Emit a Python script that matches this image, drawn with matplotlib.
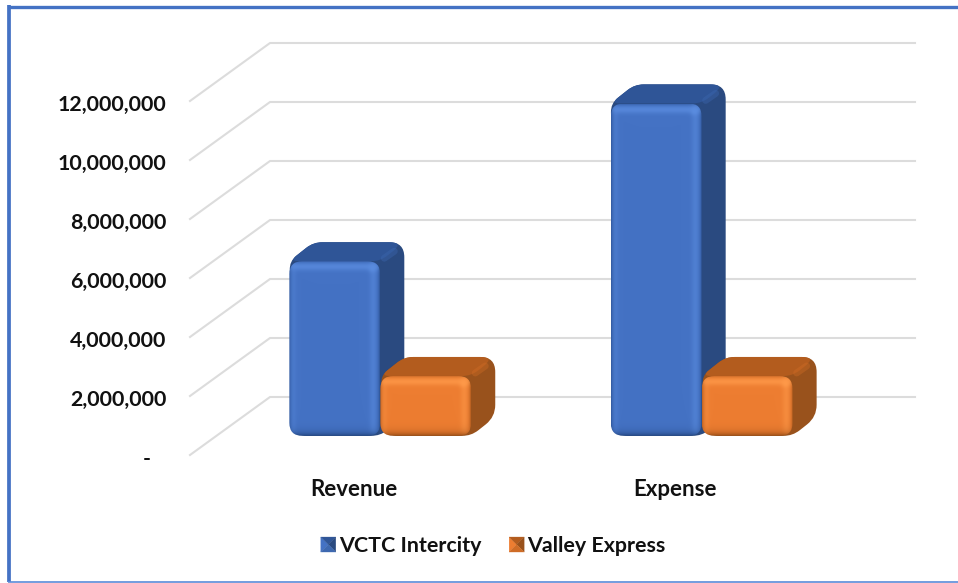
import numpy as np
import matplotlib
matplotlib.use("Agg")
import matplotlib.pyplot as plt
from matplotlib.legend_handler import HandlerPatch
from matplotlib.patches import Patch, PathPatch, Polygon
from matplotlib.path import Path
from matplotlib.transforms import Affine2D, IdentityTransform

# === Data ===
categories = ["Revenue", "Expense"]
series_names = ["VCTC Intercity", "Valley Express"]
vctc = [5920000, 11270000]
valley = [2030000, 2030000]
y_ticks = [0, 2000000, 4000000, 6000000, 8000000, 10000000, 12000000]
y_labels = ["-   ", "2,000,000", "4,000,000", "6,000,000", "8,000,000",
            "10,000,000", "12,000,000"]

# === Style ===
W, H = 958, 583
GRID = "#dcdcdc"
BLUES = {"face": "#4472c4", "top": "#2f5597", "side": "#2a4a80",
         "light": "#5b8de0", "dark": "#264a86", "edge": "#3d68b0"}
ORANGES = {"face": "#ed7d31", "top": "#b35c1e", "side": "#99521c",
           "light": "#ff9a4a", "dark": "#9c5018", "edge": "#cf6c26"}
BAR_W = 0.283
DEPTH_X, DEPTH_Y = 80, -58   # floor depth, pixels
BAR_D0 = 0.33                # where the bars stand on the floor
OFF = np.array([24.0, 19.0])  # bar depth, pixels
RADIUS = 13

plt.rcParams["font.family"] = ["Lato", "DejaVu Sans"]
plt.rcParams["font.weight"] = "bold"

fig = plt.figure(figsize=(W / 100, H / 100), dpi=100, facecolor="white")
ax = fig.add_axes([190 / W, 1 - 455 / H, 645 / W, 354 / H])
ax.set_xlim(-0.51, 1.497)
ax.set_ylim(0, 12000000)
for s in ax.spines.values():
    s.set_visible(False)
ax.patch.set_visible(False)

ax.set_yticks(y_ticks)
ax.set_yticklabels(y_labels, fontsize=15.4, color="#111111")
ax.set_xticks(range(len(categories)))
ax.set_xticklabels(categories, fontsize=16, color="#111111")
ax.tick_params(axis="y", length=0, pad=17)
ax.tick_params(axis="x", length=0, pad=17)
for lab in ax.get_yticklabels():
    lab.set_transform(lab.get_transform() + Affine2D().translate(0, -2))
fig.canvas.draw()


def px(x, y, d=0.0):
    """data point -> display pixels, moved back d along the floor"""
    p = ax.transData.transform((x, y))
    return np.array([p[0] + d * DEPTH_X, p[1] - d * DEPTH_Y])


def rounded(points, radii):
    verts, codes = [], []
    n = len(points)
    for i in range(n):
        r = radii[i]
        p, a, b = points[i], points[i - 1], points[(i + 1) % n]
        ra = min(r, np.linalg.norm(a - p) / 2)
        rb = min(r, np.linalg.norm(b - p) / 2)
        p1 = p + (a - p) / np.linalg.norm(a - p) * ra
        p2 = p + (b - p) / np.linalg.norm(b - p) * rb
        verts += [p1, p, p2]
        codes += [Path.LINETO if i else Path.MOVETO, Path.CURVE3, Path.CURVE3]
    verts.append(verts[0])
    codes.append(Path.CLOSEPOLY)
    return Path(verts, codes)


def shade_face(w, h, cols):
    """bevel image for the front of a bar: soft light and dark edges"""
    yy, xx = np.mgrid[0:h, 0:w]
    base = np.array(matplotlib.colors.to_rgb(cols["face"]))
    light = np.array(matplotlib.colors.to_rgb(cols["light"]))
    dark = np.array(matplotlib.colors.to_rgb(cols["dark"]))
    img = np.ones((h, w, 3)) * base
    bands = [(np.exp(-((yy - 5) / 4.0) ** 2), light, 0.75),
             (np.exp(-((w - 7 - xx) / 4.0) ** 2), light, 0.5),
             (np.exp(-((xx - 4) / 3.0) ** 2), light, 0.3),
             (np.exp(-(w - 1 - xx) / 1.5), dark, 0.6),
             (np.exp(-xx / 1.5), dark, 0.5),
             (np.exp(-yy / 1.2), dark, 0.3),
             (np.exp(-(h - 1 - yy) / 3.5), dark, 1.0)]
    for amt, col, k in bands:
        a = (amt * k)[..., None]
        img = img * (1 - a) + col * a
    spot = np.exp(-(((xx - (w - 8)) ** 2 + (yy - 7) ** 2) / 14.0))[..., None] * 0.8
    return img * (1 - spot) + light * spot


def draw_bar(x0, x1, value, cols, z):
    a = px(x0, 0, BAR_D0)
    b = px(x1, value, BAR_D0)
    tr = IdentityTransform()
    # silhouette of the block, side colour
    shell = [np.array(q) for q in [
        (a[0] + 8, a[1]), (a[0], b[1]), (a[0] + OFF[0], b[1] + OFF[1]),
        (b[0] + OFF[0], b[1] + OFF[1]), (b[0] + OFF[0], a[1] + OFF[1]),
        (b[0], a[1])]]
    fig.add_artist(PathPatch(rounded(shell, [9, 9, 9, 15, 12, 9]), transform=tr,
                             fc=cols["side"], ec="none", zorder=z))
    # top face
    top = [np.array(q) for q in [
        (a[0], b[1]), (a[0] + OFF[0], b[1] + OFF[1]), (b[0] + OFF[0], b[1] + OFF[1]),
        (b[0], b[1])]]
    fig.add_artist(PathPatch(rounded(top, [9, 9, 15, 9]), transform=tr, fc=cols["top"],
                             ec="none", zorder=z + 0.1))
    # soft ridge where the top and the side meet
    fig.add_artist(plt.Line2D([b[0] + 4, b[0] + OFF[0] - 10], [b[1] + 3, b[1] + OFF[1] - 9],
                              transform=tr, color=cols["edge"], lw=5, alpha=0.4,
                              solid_capstyle="round", zorder=z + 0.12))
    # front face with bevel
    front = [np.array(q) for q in [(a[0], a[1]), (a[0], b[1]), (b[0], b[1]), (b[0], a[1])]]
    clip = PathPatch(rounded(front, [RADIUS] * 4), transform=tr, fc="none", ec="none")
    fig.add_artist(clip)
    w, h = int(round(b[0] - a[0])), int(round(b[1] - a[1]))
    im = fig.figimage(shade_face(w, h, cols), xo=int(round(a[0])), yo=int(round(a[1])),
                      origin="upper", zorder=z + 0.2)
    im.set_clip_path(clip)


ax.set_zorder(1)
for i, v in enumerate(vctc):
    draw_bar(i - BAR_W, i, v, BLUES, 3)
for i, v in enumerate(valley):
    draw_bar(i, i + BAR_W, v, ORANGES, 4)

# back wall and side wall gridlines, behind the bars
x_l, x_r = ax.get_xlim()
for t in y_ticks:
    front = px(x_l, t)
    back = px(x_l, t, 1.0)
    end = px(x_r, t, 1.0)
    fig.add_artist(plt.Line2D([front[0], back[0], end[0]], [front[1], back[1], end[1]],
                              transform=IdentityTransform(), color=GRID, lw=1.5, zorder=1))


class PyramidHandler(HandlerPatch):
    def create_artists(self, legend, orig, xd, yd, w, h, fontsize, trans):
        is_blue = orig.get_facecolor()[:3] == matplotlib.colors.to_rgba(BLUES["face"])[:3]
        cols = BLUES if is_blue else ORANGES
        s = 15 / 100 * 72
        x0, y0 = w - s, (h - s) / 2
        c = (x0 + s / 2, y0 + s / 2)
        corners = [(x0, y0), (x0, y0 + s), (x0 + s, y0 + s), (x0 + s, y0)]
        tones = [cols["face"], cols["top"], cols["side"], cols["edge"]]
        return [Polygon([corners[k], corners[(k + 1) % 4], c], closed=True, fc=tones[k],
                        ec=tones[k], lw=0.2, transform=trans) for k in range(4)]


handles = [Patch(facecolor=BLUES["face"], label=series_names[0]),
           Patch(facecolor=ORANGES["face"], label=series_names[1])]
fig.legend(handles=handles, handler_map={Patch: PyramidHandler()}, ncol=2, frameon=False,
           fontsize=15.4, loc="center", bbox_to_anchor=(490 / W, 1 - 546 / H),
           labelcolor="#111111", handlelength=1.0, handletextpad=0.15, columnspacing=1.0)

# picture frame: open on the right, thin and paler at the bottom
fr = IdentityTransform()
fig.add_artist(plt.Line2D([9, 9], [1, H - 5], transform=fr, color="#4472c4", lw=2.7,
                          solid_capstyle="butt", zorder=0.5))
fig.add_artist(plt.Line2D([7.5, W], [H - 6.5, H - 6.5], transform=fr, color="#4472c4", lw=2.4,
                          solid_capstyle="butt", zorder=0.5))
fig.add_artist(plt.Line2D([7.5, W], [0.8, 0.8], transform=fr, color="#5b8bd8", lw=1.2,
                          solid_capstyle="butt", zorder=0.5))

fig.savefig("out.png", dpi=100)
